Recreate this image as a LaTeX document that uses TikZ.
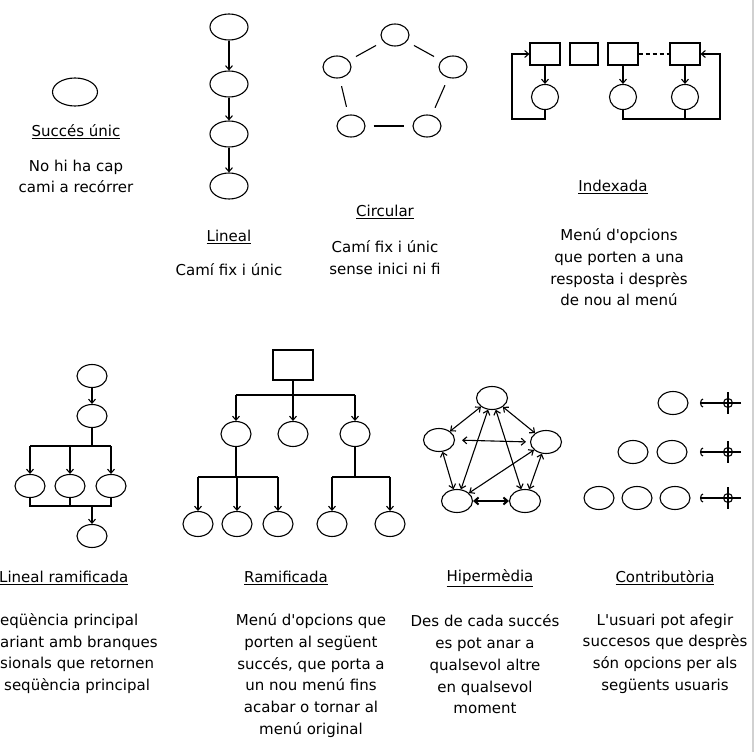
\documentclass[tikz,border=0pt]{standalone}
\usepackage{fontspec}
\setmainfont{DejaVu Sans}
\usetikzlibrary{shapes.geometric, arrows.meta}

\begin{document}
\begin{tikzpicture}[x=1pt, y=-1pt,
  ev/.style={ellipse, draw, line width=1.1pt, inner sep=0pt,
             minimum width=30pt, minimum height=23pt},
  bx/.style={rectangle, draw, line width=1.1pt, inner sep=0pt,
             minimum width=30pt, minimum height=22pt},
  txt/.style={font=\fontsize{15}{21.7}\selectfont, align=center, inner sep=0pt},
  ttl/.style={font=\fontsize{15}{18}\selectfont, inner sep=0pt},
  tip/.style={-{Straight Barb[length=4pt,width=7pt]}},
  link/.style={line width=1.1pt},
  arr/.style={link, tip},
  biarr/.style={link, {Straight Barb[length=4pt,width=7pt]}-{Straight Barb[length=4pt,width=7pt]}},
  feed/.style={link, -{Arc Barb[length=3pt,width=9pt]}},
  gap/.style={link, shorten <=8pt, shorten >=8pt}
]
\useasboundingbox (0,0) rectangle (756,752);
\fill[white] (0,0) rectangle (756,752);
\draw[black!18, line width=1.5pt] (753,0) -- (753,752);

% ---------- Succés únic ----------
\node[ev, minimum width=45pt, minimum height=28pt] (u1) at (75,92) {};
\node[ttl] (tu) at (76,132) {\underline{Succés únic}};
\node[txt] (du) at (76,176.5) {No hi ha cap\\cami a recórrer};

% ---------- Lineal ----------
\node[ev, minimum width=38pt, minimum height=26pt] (l1) at (229,27) {};
\node[ev, minimum width=38pt, minimum height=26pt] (l2) at (229,84) {};
\node[ev, minimum width=38pt, minimum height=26pt] (l3) at (229,134) {};
\node[ev, minimum width=38pt, minimum height=26pt] (l4) at (229,186) {};
\draw[arr] (l1) -- (l2);
\draw[arr] (l2) -- (l3);
\draw[arr] (l3) -- (l4);
\node[ttl] (tl) at (229,237) {\underline{Lineal}};
\node[txt] (dl) at (229,270) {Camí fix i únic};

% ---------- Circular ----------
\node[ev, minimum width=28pt, minimum height=22pt] (c1) at (395,35) {};
\node[ev, minimum width=28pt, minimum height=22pt] (c2) at (337,67) {};
\node[ev, minimum width=28pt, minimum height=22pt] (c3) at (453,67) {};
\node[ev, minimum width=28pt, minimum height=22pt] (c4) at (351,126) {};
\node[ev, minimum width=28pt, minimum height=22pt] (c5) at (427,126) {};
\draw[gap] (c1) -- (c2);
\draw[gap] (c1) -- (c3);
\draw[gap] (c2) -- (c4);
\draw[gap] (c3) -- (c5);
\draw[gap] (c4) -- (c5);
\node[ttl] (tc) at (385,212) {\underline{Circular}};
\node[txt] (dc) at (385,257.5) {Camí fix i únic\\sense inici ni fi};

% ---------- Indexada ----------
\node[bx] (b1) at (545,54) {};
\node[bx, minimum width=28pt] (b2) at (584,54) {};
\node[bx] (b3) at (623,54) {};
\node[bx] (b4) at (685,54) {};
\draw[link, dashed, dash pattern=on 4pt off 3pt] (b3) -- (b4);
\node[ev, minimum width=27pt, minimum height=25pt] (i1) at (545,97) {};
\node[ev, minimum width=27pt, minimum height=25pt] (i2) at (623,97) {};
\node[ev, minimum width=27pt, minimum height=25pt] (i3) at (685,97) {};
\draw[arr] (b1) -- (i1);
\draw[arr] (b3) -- (i2);
\draw[arr] (b4) -- (i3);
\coordinate (ll) at (512,119);
\coordinate (lu) at (512,54);
\coordinate (rl) at (720,119);
\coordinate (ru) at (720,54);
\draw[arr] (i1.south) |- (ll) -- (lu) -- (b1.west);
\draw[arr] (i2.south) |- (rl) -- (ru) -- (b4.east);
\draw[link] (i3.south) -- (i3.south |- rl);
\node[ttl] (ti) at (613,187) {\underline{Indexada}};
\node[txt] (di) at (619,267.5) {Menú d\textquotesingle opcions\\que porten a una\\resposta i desprès\\de nou al menú};

% ---------- Lineal ramificada ----------
\node[ev] (a1) at (92,376) {};
\node[ev] (a2) at (92,416) {};
\node[ev] (a3) at (30,486) {};
\node[ev] (a4) at (70,486) {};
\node[ev] (a5) at (111,486) {};
\node[ev] (a6) at (92,536) {};
\draw[arr] (a1) -- (a2);
\coordinate (atop) at (92,446);
\coordinate (abot) at (92,506);
\draw[link] (a2.south) -- (atop);
\draw[link] (a3.north |- atop) -- (a5.north |- atop);
\draw[arr] (a3.north |- atop) -- (a3.north);
\draw[arr] (a4.north |- atop) -- (a4.north);
\draw[arr] (a5.north |- atop) -- (a5.north);
\draw[link] (a3.south) -- (a3.south |- abot) -- (a5.south |- abot) -- (a5.south);
\draw[link] (a4.south) -- (a4.south |- abot);
\draw[arr] (abot) -- (a6.north);
\node[ttl, anchor=west] (ta) at (-1,578) {\underline{Lineal ramificada}};
\node[txt, align=left, anchor=west] (da) at (0,653.5)
  {eqüència principal\\ariant amb branques\\sionals que retornen\\\hspace{4pt}seqüència principal};

% ---------- Ramificada ----------
\node[bx, minimum width=40pt, minimum height=30pt] (r0) at (293,365) {};
\node[ev, minimum height=25pt] (r1) at (236,434) {};
\node[ev, minimum height=25pt] (r2) at (293,434) {};
\node[ev, minimum height=25pt] (r3) at (355,434) {};
\node[ev, minimum height=25pt] (r4) at (198,524) {};
\node[ev, minimum height=25pt] (r5) at (237,524) {};
\node[ev, minimum height=25pt] (r6) at (278,524) {};
\node[ev, minimum height=25pt] (r7) at (332,524) {};
\node[ev, minimum height=25pt] (r8) at (390,524) {};
\coordinate (rb1) at (293,395);
\coordinate (rb2) at (236,477);
\coordinate (rb3) at (355,477);
\draw[link] (r0.south) -- (rb1);
\draw[link] (r1.north |- rb1) -- (r3.north |- rb1);
\draw[arr] (r1.north |- rb1) -- (r1.north);
\draw[arr] (rb1) -- (r2.north);
\draw[arr] (r3.north |- rb1) -- (r3.north);
\draw[link] (r1.south) -- (rb2);
\draw[link] (r4.north |- rb2) -- (r6.north |- rb2);
\draw[arr] (r4.north |- rb2) -- (r4.north);
\draw[arr] (r5.north |- rb2) -- (r5.north);
\draw[arr] (r6.north |- rb2) -- (r6.north);
\draw[link] (r3.south) -- (rb3);
\draw[link] (r7.north |- rb3) -- (r8.north |- rb3);
\draw[arr] (r7.north |- rb3) -- (r7.north);
\draw[arr] (r8.north |- rb3) -- (r8.north);
\node[ttl] (tr) at (286,578) {\underline{Ramificada}};
\node[txt] (dr) at (311,675.5)
  {Menú d\textquotesingle opcions que\\porten al següent\\succés, que porta a\\un nou menú fins\\acabar o tornar al\\menú original};

% ---------- Hipermèdia ----------
\node[ev, minimum width=31pt] (h1) at (492,398) {};
\node[ev, minimum width=31pt] (h2) at (439,440) {};
\node[ev, minimum width=31pt] (h3) at (546,442) {};
\node[ev, minimum width=31pt] (h4) at (457,501) {};
\node[ev, minimum width=31pt] (h5) at (525,501) {};
\draw[biarr] (h1) -- (h2);
\draw[biarr] (h1) -- (h3);
\draw[biarr, shorten <=7pt, shorten >=4pt] (h2.east) -- (h3.west);
\draw[biarr] (h2) -- (h4);
\draw[biarr] (h3) -- (h5);
\draw[biarr, line width=2pt] (h4) -- (h5);
\draw[biarr] (h4) -- (h1);
\draw[biarr] (h1) -- (h5);
\draw[biarr] (h3) -- (h4);
\node[ttl] (th) at (490,578) {\underline{Hipermèdia}};
\node[txt] (dh) at (485,664.5)
  {Des de cada succés\\es pot anar a\\qualsevol altre\\en qualsevol\\moment};

% ---------- Contributòria ----------
\node[ev] (k1) at (673,403) {};
\node[ev] (k2) at (633,452) {};
\node[ev] (k3) at (672,452) {};
\node[ev] (k4) at (599,498) {};
\node[ev] (k5) at (637,498) {};
\node[ev] (k6) at (675,498) {};
\foreach \n/\y in {1/403, 2/452, 3/498} {
  \node[circle, draw, line width=1.1pt, minimum size=9pt, inner sep=0pt] (p\n) at (728,\y) {};
  \coordinate (s\n) at (741,\y);
  \coordinate (e\n) at (700,\y);
  \coordinate (v\n) at (728,{\y-11});
  \coordinate (w\n) at (728,{\y+11});
  \draw[feed] (s\n) -- (e\n);
  \draw[link] (v\n) -- (w\n);
}
\node[ttl] (tk) at (665,578) {\underline{Contributòria}};
\node[txt] (dk) at (665,653.5)
  {L\textquotesingle usuari pot afegir\\succesos que desprès\\són opcions per als\\següents usuaris};
\end{tikzpicture}
\end{document}
